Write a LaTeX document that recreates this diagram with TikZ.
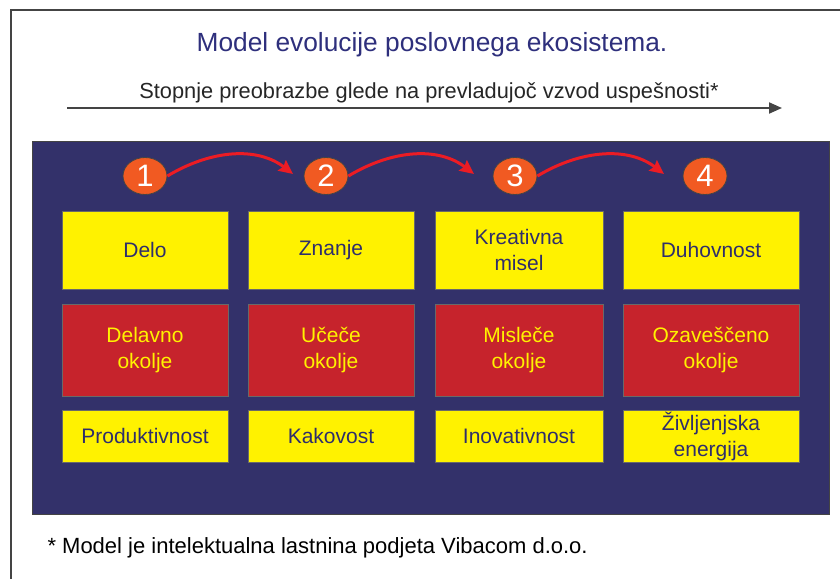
\documentclass[tikz,border=0pt]{standalone}
\usepackage{fontspec}
\setmainfont{Liberation Sans}
\usetikzlibrary{arrows.meta,shapes.geometric}
\definecolor{navy}{HTML}{33316A}
\definecolor{titleblue}{HTML}{2E2F7C}
\definecolor{boxyellow}{HTML}{FFF200}
\definecolor{boxred}{HTML}{C6232C}
\definecolor{circorange}{HTML}{F15A22}
\definecolor{arrowred}{HTML}{EC1C24}
\definecolor{textnavy}{HTML}{2F2E6B}
\definecolor{framegray}{HTML}{444444}
\tikzset{
  ybox/.style={draw=framegray!80, line width=0.8pt, fill=boxyellow, text=textnavy, align=center, font=\fontsize{21}{26}\selectfont, inner sep=0pt},
  rbox/.style={draw=framegray!80, line width=0.8pt, fill=boxred, text=boxyellow, align=center, font=\fontsize{21}{26}\selectfont, inner sep=0pt},
  numc/.style={ellipse, draw=framegray, line width=0.8pt, fill=circorange, text=white, minimum width=44pt, minimum height=37pt, inner sep=0pt, font=\fontsize{31}{31}\selectfont},
  redarr/.style={draw=arrowred, line width=3pt, -{Stealth[length=14pt,width=13pt,inset=2pt]}},
}
\begin{document}
\begin{tikzpicture}[x=1pt,y=-1pt]
\useasboundingbox (0,0) rectangle (840,578);
% outer frame
\draw[framegray, line width=2pt] (11,585) -- (11,10) -- (850,10);
% title
\node[text=titleblue, font=\fontsize{26.3}{30}\selectfont] (title) at (432,45) {Model evolucije poslovnega ekosistema.};
\node[text=black!85, font=\fontsize{21.8}{24}\selectfont] (sub) at (429,93) {Stopnje preobrazbe glede na prevladujoč vzvod uspešnosti*};
\coordinate (as) at (67,108);
\coordinate (ae) at (782,108);
\draw[framegray, line width=2pt, -{Triangle[length=13pt,width=11pt]}] (as) -- (ae);
% navy panel
\node[draw=framegray, line width=1pt, fill=navy, minimum width=797pt, minimum height=373pt, inner sep=0pt, anchor=north west] (panel) at (32,141) {};
% circles
\node[numc] (c1) at (145,176) {1};
\node[numc] (c2) at (326,176) {2};
\node[numc] (c3) at (515,176) {3};
\node[numc] (c4) at (705,176) {4};
\coordinate (t2) at (293,174);
\coordinate (t3) at (474,174);
\coordinate (t4) at (664,174);
\draw[redarr] (c1.east) .. controls +(45,-27) and +(-35,-27) .. (t2);
\draw[redarr] (c2.east) .. controls +(45,-27) and +(-35,-27) .. (t3);
\draw[redarr] (c3.east) .. controls +(45,-27) and +(-35,-27) .. (t4);
% row 1
\node[ybox, minimum width=166pt, minimum height=78pt] (a1) at (145,250) {Delo};
\node[ybox, minimum width=166pt, minimum height=78pt] (a2) at (331,250) {Znanje};
\node[ybox, minimum width=168pt, minimum height=78pt] (a3) at (519,250) {Kreativna\\misel};
\node[ybox, minimum width=176pt, minimum height=78pt] (a4) at (711,250) {Duhovnost};
% row 2
\node[rbox, minimum width=166pt, minimum height=92pt] (b1) at (145,350) {Delavno\\okolje};
\node[rbox, minimum width=166pt, minimum height=92pt] (b2) at (331,350) {Učeče\\okolje};
\node[rbox, minimum width=168pt, minimum height=92pt] (b3) at (519,350) {Misleče\\okolje};
\node[rbox, minimum width=176pt, minimum height=92pt] (b4) at (711,350) {Ozaveščeno\\okolje};
% row 3
\node[ybox, minimum width=166pt, minimum height=52pt] (d1) at (145,436) {Produktivnost};
\node[ybox, minimum width=166pt, minimum height=52pt] (d2) at (331,436) {Kakovost};
\node[ybox, minimum width=168pt, minimum height=52pt] (d3) at (519,436) {Inovativnost};
\node[ybox, minimum width=176pt, minimum height=52pt] (d4) at (711,436) {Življenjska\\energija};
% footnote
\node[anchor=west, text=black, font=\fontsize{22}{24}\selectfont] (foot) at (44,548) {* Model je intelektualna lastnina podjeta Vibacom d.o.o.};
\end{tikzpicture}
\end{document}
